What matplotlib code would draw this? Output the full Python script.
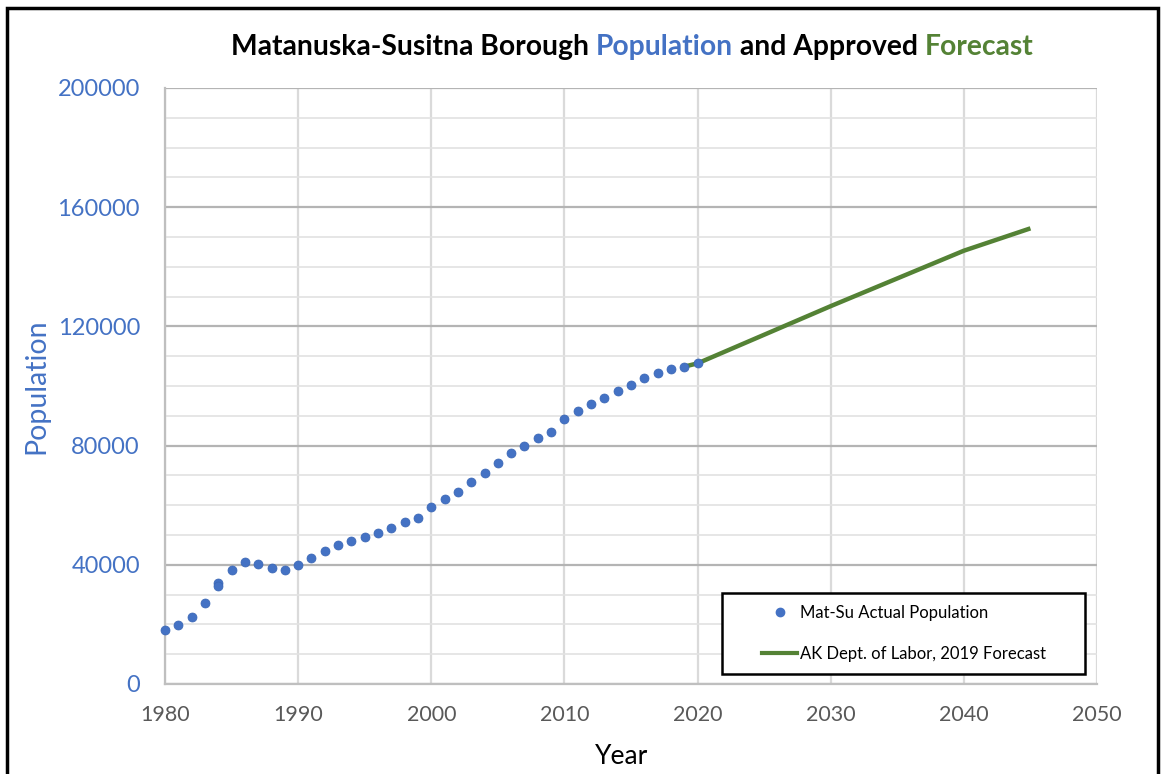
import matplotlib
matplotlib.use("Agg")
import matplotlib.pyplot as plt
from matplotlib.patches import Rectangle
from matplotlib.lines import Line2D

# actual population
years = [1980, 1981, 1982, 1983, 1984, 1984, 1985, 1986, 1987, 1988, 1989,
         1990, 1991, 1992, 1993, 1994, 1995, 1996, 1997, 1998, 1999,
         2000, 2001, 2002, 2003, 2004, 2005, 2006, 2007, 2008, 2009,
         2010, 2011, 2012, 2013, 2014, 2015, 2016, 2017, 2018, 2019, 2020]
population = [18100, 19800, 22500, 27200, 33800, 32800, 38300, 40800, 40400, 38900, 38300,
              39900, 42200, 44600, 46700, 47900, 49300, 50600, 52200, 54500, 55800,
              59500, 62000, 64400, 67700, 70700, 74300, 77500, 80000, 82400, 84500,
              89000, 91700, 94000, 96100, 98300, 100200, 102600, 104300, 105800, 106500, 107600]

# AK Dept. of Labor forecast
fc_years = [2019, 2020, 2030, 2040, 2045]
fc_pop = [106500, 107600, 126800, 145400, 152900]

blue = '#4472C4'
green = '#548235'

plt.rcParams['font.family'] = ['Lato', 'DejaVu Sans']

W, H = 1162, 774
fig = plt.figure(figsize=(W/100, H/100), dpi=100)
ax = fig.add_axes([165/W, 1 - 684/H, (1097-165)/W, (684-88)/H])

ax.plot(fc_years, fc_pop, color=green, lw=3.2, zorder=3, solid_capstyle='butt')
ax.scatter(years, population, s=42, color=blue, edgecolors='#3a66b4', linewidths=0.5,
           zorder=4, clip_on=False)

ax.set_xlim(1980, 2050)
ax.set_ylim(0, 200000)
ax.set_xticks(range(1980, 2051, 10))
ax.set_yticks(range(0, 200001, 40000))
ax.set_yticks(range(0, 200001, 10000), minor=True)
ax.grid(which='major', axis='y', color='#b4b4b4', lw=1.6)
ax.grid(which='minor', axis='y', color='#e2e2e2', lw=1.2)
ax.grid(which='major', axis='x', color='#dadada', lw=1.6)
ax.set_axisbelow(True)
ax.tick_params(axis='y', which='both', length=0, labelcolor=blue, labelsize=17, pad=18)
ax.tick_params(axis='x', length=0, labelcolor='#595959', labelsize=15.5, pad=15)
for s in ['top', 'right']:
    ax.spines[s].set_visible(False)
ax.spines['left'].set_color('#bfbfbf')
ax.spines['bottom'].set_color('#bfbfbf')
ax.spines['left'].set_linewidth(1.6)
ax.spines['bottom'].set_linewidth(1.6)

fig.text(622/W, 1 - 757/H, 'Year', fontsize=19, color='black', ha='center', va='center')
fig.text(36/W, 1 - 386/H, 'Population', fontsize=20.5, color=blue, ha='center', va='center',
         rotation=90)

# legend: frame drawn separately so it can be wider than the entries
ax.add_patch(Rectangle((722/W, 1 - 674/H), (1085-722)/W, (674-593)/H, transform=fig.transFigure,
                       facecolor='white', edgecolor='black', lw=1.8, zorder=5, clip_on=False))
handles = [Line2D([], [], marker='o', ls='none', color=blue, markersize=6),
           Line2D([], [], color=green, lw=3)]
leg = ax.legend(handles, ['Mat-Su Actual Population', 'AK Dept. of Labor, 2019 Forecast'],
                loc='upper left', bbox_to_anchor=(762/W, 1 - 605/H),
                bbox_transform=fig.transFigure, fontsize=12, frameon=False,
                borderpad=0, labelspacing=1.5, handlelength=2.1, handletextpad=0.15,
                borderaxespad=0)
leg.set_zorder(6)

# title with coloured words
pieces = [('Matanuska-Susitna Borough ', 'black'), ('Population', blue),
          (' and Approved ', 'black'), ('Forecast', green)]
fig.canvas.draw()
renderer = fig.canvas.get_renderer()
texts = []
x = 0
for s, c in pieces:
    t = fig.text(x, 1 - 47/H, s, color=c, fontsize=20.3, fontweight='bold', va='center', ha='left')
    bb = t.get_window_extent(renderer)
    x += bb.width / fig.bbox.width
    texts.append(t)
start = 632/W - x/2
for t in texts:
    t.set_x(t.get_position()[0] + start)

fig.patches.append(Rectangle((7/W, -0.01), 1 - 11/W, 1 - 8/H + 0.01,
                             transform=fig.transFigure, fill=False, ec='black', lw=2.5))

fig.savefig('out.png', dpi=100)
